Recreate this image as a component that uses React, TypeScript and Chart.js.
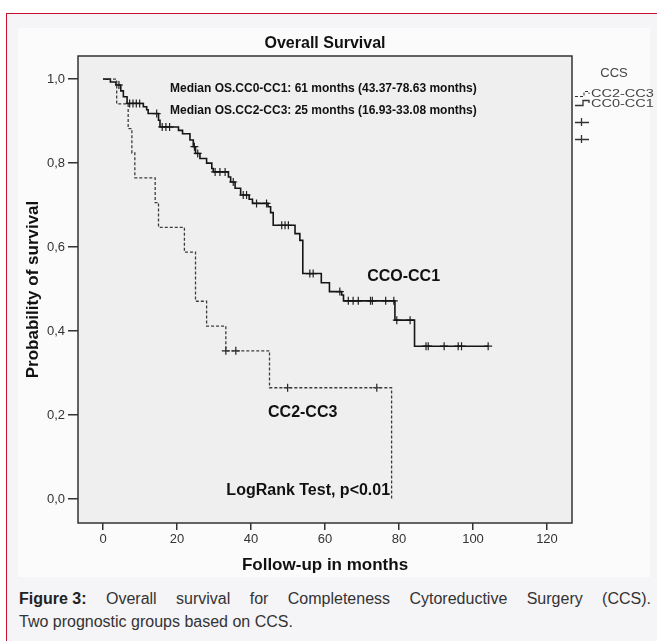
import React, { useEffect, useRef } from "react";
import { Chart, registerables } from "chart.js";

Chart.register(...registerables);

// ---------- data ----------
// CC0-CC1 (solid) Kaplan-Meier steps: time (months) -> survival after the drop
const cc01Times = [0, 2, 3.5, 4.8, 5.5, 6.5, 10.9, 11.8, 12.2, 15.0, 15.4, 20.4, 21.5, 23.5, 24.4, 25.0, 26.2, 28.0, 29.4, 29.8, 33.9, 34.5, 35.7, 37.2, 39.5, 40.4, 44.6, 45.3, 46.0, 51.9, 53.2, 54.0, 59.0, 61.2, 64.5, 65.0, 78.9, 84.2];
const cc01Surv = [1.0, 0.993, 0.986, 0.972, 0.958, 0.942, 0.934, 0.927, 0.918, 0.902, 0.886, 0.878, 0.87, 0.855, 0.839, 0.823, 0.811, 0.8, 0.787, 0.779, 0.767, 0.755, 0.74, 0.724, 0.714, 0.704, 0.696, 0.682, 0.652, 0.632, 0.616, 0.537, 0.515, 0.494, 0.486, 0.472, 0.426, 0.364];
const cc01LastFollowUp = 104.1;
const cc01Censored = [4.3, 7.2, 8.1, 9.0, 9.9, 14.5, 16.0, 17.0, 18.0, 24.7, 25.6, 30.3, 31.6, 33.0, 35.2, 37.9, 38.8, 41.5, 44.2, 48.3, 49.2, 50.1, 55.9, 56.8, 64.0, 66.3, 67.6, 69.0, 72.3, 72.8, 76.4, 78.6, 79.4, 83.0, 87.3, 87.9, 92.2, 96.0, 96.9, 104.1];

// CC2-CC3 (dashed)
const cc23Times = [0, 3.7, 6.8, 7.8, 8.6, 14.1, 15.0, 22.0, 25.0, 28.0, 33.2, 45.0, 78.0];
const cc23Surv = [1.0, 0.941, 0.882, 0.824, 0.765, 0.706, 0.647, 0.588, 0.471, 0.412, 0.353, 0.265, 0.0];
const cc23LastFollowUp = 78.0;
const cc23Censored = [33.2, 35.9, 49.9, 74.0];

const xTickValues = [0, 20, 40, 60, 80, 100, 120];
const yTickValues = [0, 0.2, 0.4, 0.6, 0.8, 1.0];

const annotationLabels = [
  { text: "Median OS.CC0-CC1: 61 months (43.37-78.63 months)", x: 18.1, y: 0.976, align: "left", size: 12 },
  { text: "Median OS.CC2-CC3: 25 months (16.93-33.08 months)", x: 18.1, y: 0.924, align: "left", size: 12 },
  { text: "CCO-CC1", x: 71.4, y: 0.529, align: "left", size: 16 },
  { text: "CC2-CC3", x: 44.6, y: 0.205, align: "left", size: 16 },
  { text: "LogRank Test, p<0.01", x: 77.6, y: 0.019, align: "right", size: 16 },
];

const FONT = "'Liberation Sans', Arial, Helvetica, sans-serif";

function kmPoints(times: number[], surv: number[], last: number) {
  const pts = times.map((t, i) => ({ x: t, y: surv[i] }));
  if (last > times[times.length - 1]) pts.push({ x: last, y: surv[surv.length - 1] });
  return pts;
}
function survAt(times: number[], surv: number[], t: number) {
  let s = surv[0];
  for (let i = 0; i < times.length; i++) if (times[i] <= t) s = surv[i];
  return s;
}

function stretchedText(ctx: CanvasRenderingContext2D, text: string, x: number, y: number, sx: number) {
  ctx.save();
  ctx.translate(x, y);
  ctx.scale(sx, 1);
  ctx.fillText(text, 0, 0);
  ctx.restore();
}

const plotDecor = {
  id: "plotDecor",
  beforeDatasetsDraw(chart: any) {
    const { ctx, chartArea: a } = chart;
    ctx.save();
    ctx.fillStyle = "#efefef";
    ctx.fillRect(a.left, a.top, a.right - a.left, a.bottom - a.top);
    ctx.restore();
  },
  afterDatasetsDraw(chart: any) {
    const { ctx, chartArea: a, scales } = chart;
    ctx.save();
    ctx.strokeStyle = "#333";
    ctx.lineWidth = 1.5;
    ctx.strokeRect(a.left, a.top, a.right - a.left, a.bottom - a.top);
    // annotations
    ctx.fillStyle = "#111";
    ctx.textBaseline = "middle";
    for (const l of annotationLabels) {
      ctx.font = `bold ${l.size}px ${FONT}`;
      ctx.textAlign = l.align as CanvasTextAlign;
      ctx.fillText(l.text, scales.x.getPixelForValue(l.x), scales.y.getPixelForValue(l.y));
    }
    // legend
    const lx = a.right + 3;
    ctx.fillStyle = "#444";
    ctx.textAlign = "center";
    ctx.font = `13px ${FONT}`;
    ctx.fillText("CCS", a.right + 42, 73);
    ctx.textAlign = "left";
    ctx.font = `10px ${FONT}`;
    stretchedText(ctx, "CC2-CC3", lx + 16, 94.5, 1.45);
    stretchedText(ctx, "CC0-CC1", lx + 16, 104, 1.45);
    ctx.strokeStyle = "#333";
    ctx.lineWidth = 1;
    ctx.setLineDash([3, 2]);
    ctx.beginPath();
    ctx.moveTo(lx, 96.5); ctx.lineTo(lx + 9, 96.5); ctx.lineTo(lx + 9, 91.5); ctx.lineTo(lx + 14, 91.5); ctx.lineTo(lx + 14, 94);
    ctx.stroke();
    ctx.setLineDash([]);
    ctx.lineWidth = 1.3;
    ctx.beginPath();
    ctx.moveTo(lx, 105.5); ctx.lineTo(lx + 8, 105.5); ctx.lineTo(lx + 8, 100.5); ctx.lineTo(lx + 14, 100.5); ctx.lineTo(lx + 14, 103);
    ctx.stroke();
    for (const cy of [122, 139]) {
      ctx.beginPath();
      ctx.moveTo(lx, cy + 0.5); ctx.lineTo(lx + 14, cy + 0.5);
      ctx.moveTo(lx + 6.5, cy - 4); ctx.lineTo(lx + 6.5, cy + 4);
      ctx.stroke();
    }
    ctx.restore();
  },
};

function KMChart() {
  const ref = useRef<HTMLCanvasElement | null>(null);
  useEffect(() => {
    if (!ref.current) return;
    const cc01Pts = kmPoints(cc01Times, cc01Surv, cc01LastFollowUp);
    const cc23Pts = kmPoints(cc23Times, cc23Surv, cc23LastFollowUp);
    const cc01Cens = cc01Censored.map((t) => ({ x: t, y: survAt(cc01Times, cc01Surv, t) }));
    const cc23Cens = cc23Censored.map((t) => ({ x: t, y: survAt(cc23Times, cc23Surv, t) }));
    const chart = new Chart(ref.current, {
      type: "line",
      data: {
        datasets: [
          { label: "CC2-CC3", data: cc23Pts, stepped: "before", borderColor: "#3c3c3c", borderWidth: 1.3, borderDash: [3, 2], pointRadius: 0, fill: false } as any,
          { label: "CC0-CC1", data: cc01Pts, stepped: "before", borderColor: "#151515", borderWidth: 1.6, pointRadius: 0, fill: false } as any,
          { type: "scatter", label: "CC2-CC3 censored", data: cc23Cens, pointStyle: "cross", pointRadius: 4, borderColor: "#222", borderWidth: 1.2, showLine: false } as any,
          { type: "scatter", label: "CC0-CC1 censored", data: cc01Cens, pointStyle: "cross", pointRadius: 4, borderColor: "#222", borderWidth: 1.2, showLine: false } as any,
        ],
      },
      options: {
        animation: false,
        responsive: false,
        devicePixelRatio: 1,
        layout: { padding: { left: 0, right: 85, top: 0, bottom: 0 } },
        plugins: {
          legend: { display: false },
          tooltip: { enabled: false },
          title: {
            display: true,
            text: "Overall Survival",
            fullSize: false,
            color: "#111",
            font: { family: FONT, size: 16, weight: "bold", lineHeight: 1.2 },
            padding: { top: 34.4, bottom: 2.4 },
          },
        },
        scales: {
          x: {
            type: "linear",
            min: -6.76,
            max: 126.76,
            afterBuildTicks: (s: any) => { s.ticks = xTickValues.map((v) => ({ value: v })); },
            afterFit: (s: any) => { s.height = 57; },
            ticks: { color: "#333", font: { family: FONT, size: 13 }, padding: 2, autoSkip: false, maxRotation: 0 },
            grid: { drawOnChartArea: false, tickLength: 7, color: "#333", lineWidth: 1.5 },
            border: { display: false },
            title: { display: true, text: "Follow-up in months", color: "#111", font: { family: FONT, size: 17, weight: "bold", lineHeight: 1.2 }, padding: { top: 0, bottom: 4.8 } },
          },
          y: {
            type: "linear",
            min: -0.057,
            max: 1.055,
            afterBuildTicks: (s: any) => { s.ticks = yTickValues.map((v) => ({ value: v })); },
            afterFit: (s: any) => { s.width = 78; },
            ticks: { color: "#333", font: { family: FONT, size: 13 }, padding: 3, autoSkip: false, callback: (v: any) => Number(v).toFixed(1).replace(".", ",") },
            grid: { drawOnChartArea: false, tickLength: 10, color: "#333", lineWidth: 1.5 },
            border: { display: false },
            title: { display: true, text: "Probability of survival", color: "#111", font: { family: FONT, size: 17, weight: "bold", lineHeight: 1.2 }, padding: { top: 22.8, bottom: 0 } },
          },
        },
      } as any,
      plugins: [plotDecor],
    });
    return () => chart.destroy();
  }, []);
  return <canvas ref={ref} width={657} height={580} style={{ position: "absolute", left: 0, top: 0, width: 657, height: 580 }} />;
}

export default function App() {
  return (
    <div style={{ position: "fixed", left: 0, top: 0, width: 657, height: 641, background: "#ffffff", overflow: "hidden", fontFamily: FONT }}>
      <div style={{ position: "absolute", left: 6, top: 13, width: 660, height: 660, border: "1px solid #c8102e", background: "#f5f4f7", boxSizing: "border-box" }} />
      <div style={{ position: "absolute", left: 18, top: 28, width: 632, height: 549, background: "#fbfbfb" }} />
      <KMChart />
      <div style={{ position: "absolute", left: 19, top: 587, width: 632, fontFamily: FONT, fontSize: 16, lineHeight: "23px", color: "#333" }}>
        <div style={{ textAlign: "justify", textAlignLast: "justify" as any }}>
          <b style={{ color: "#222", display: "inline-block" }}>Figure&nbsp;3:</b> Overall survival for Completeness Cytoreductive Surgery (CCS).
        </div>
        <div>Two prognostic groups based on CCS.</div>
      </div>
    </div>
  );
}
